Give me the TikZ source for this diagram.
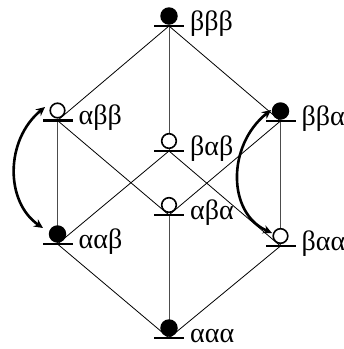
\documentclass[tikz,border=0pt]{standalone}
\usepackage{fontspec}
\setmainfont{Liberation Serif}
\usetikzlibrary{arrows.meta,backgrounds}
\begin{document}
\begin{tikzpicture}[x=1pt,y=-1pt,
  barnode/.style={rectangle, fill=black, minimum width=30pt, minimum height=2.6pt, inner sep=0pt, outer sep=0pt},
  fullc/.style={circle, fill=black, minimum size=17.5pt, inner sep=0pt},
  openc/.style={circle, draw=black, line width=1.6pt, fill=white, minimum size=14.6pt, inner sep=0pt},
  lab/.style={anchor=base west, inner sep=0pt, font=\fontsize{28}{30}\selectfont},
  cubeedge/.style={line width=0.8pt},
  vertedge/.style={line width=0.6pt, black!70},
  swaparrow/.style={line width=2.6pt, {Stealth[length=9pt,width=8.5pt]}-{Stealth[length=9pt,width=8.5pt]}}
]
\useasboundingbox (0,0) rectangle (344,349);
\foreach \n/\x/\y/\t/\s in {
  bbb/169/26/βββ/fullc,
  abb/57.5/120.5/αββ/openc,
  bba/280.5/121/ββα/fullc,
  bab/169/151/βαβ/openc,
  aba/169/215/αβα/openc,
  aab/57.5/244/ααβ/fullc,
  baa/280.5/246/βαα/openc,
  aaa/169/338/ααα/fullc}{
  \node[barnode] (\n) at (\x,\y) {};
  \node[\s] (\n-c) at (\x,\y-10) {};
  \node[lab] (\n-l) at (\x+21,\y+4) {\t};
}
\begin{pgfonlayer}{background}
  \draw[cubeedge] (bbb.center) -- (abb.center);
  \draw[cubeedge] (bbb.center) -- (bba.center);
  \draw[vertedge] (bbb.center) -- (bab.center);
  \draw[vertedge] (abb.center) -- (aab.center);
  \draw[cubeedge] (abb.center) -- (aba.center);
  \draw[vertedge] (bba.center) -- (baa.center);
  \draw[cubeedge] (bba.center) -- (aba.center);
  \draw[cubeedge] (bab.center) -- (aab.center);
  \draw[cubeedge] (bab.center) -- (baa.center);
  \draw[vertedge] (aba.center) -- (aaa.center);
  \draw[cubeedge] (aab.center) -- (aaa.center);
  \draw[cubeedge] (baa.center) -- (aaa.center);
\end{pgfonlayer}
\coordinate (la) at (45,107);
\coordinate (lb) at (43,228);
\coordinate (ra) at (271,110);
\coordinate (rb) at (272,233);
\draw[swaparrow] (la) .. controls (5,140) and (5,202) .. (lb);
\draw[swaparrow] (ra) .. controls (227,145) and (227,213) .. (rb);
\end{tikzpicture}
\end{document}
